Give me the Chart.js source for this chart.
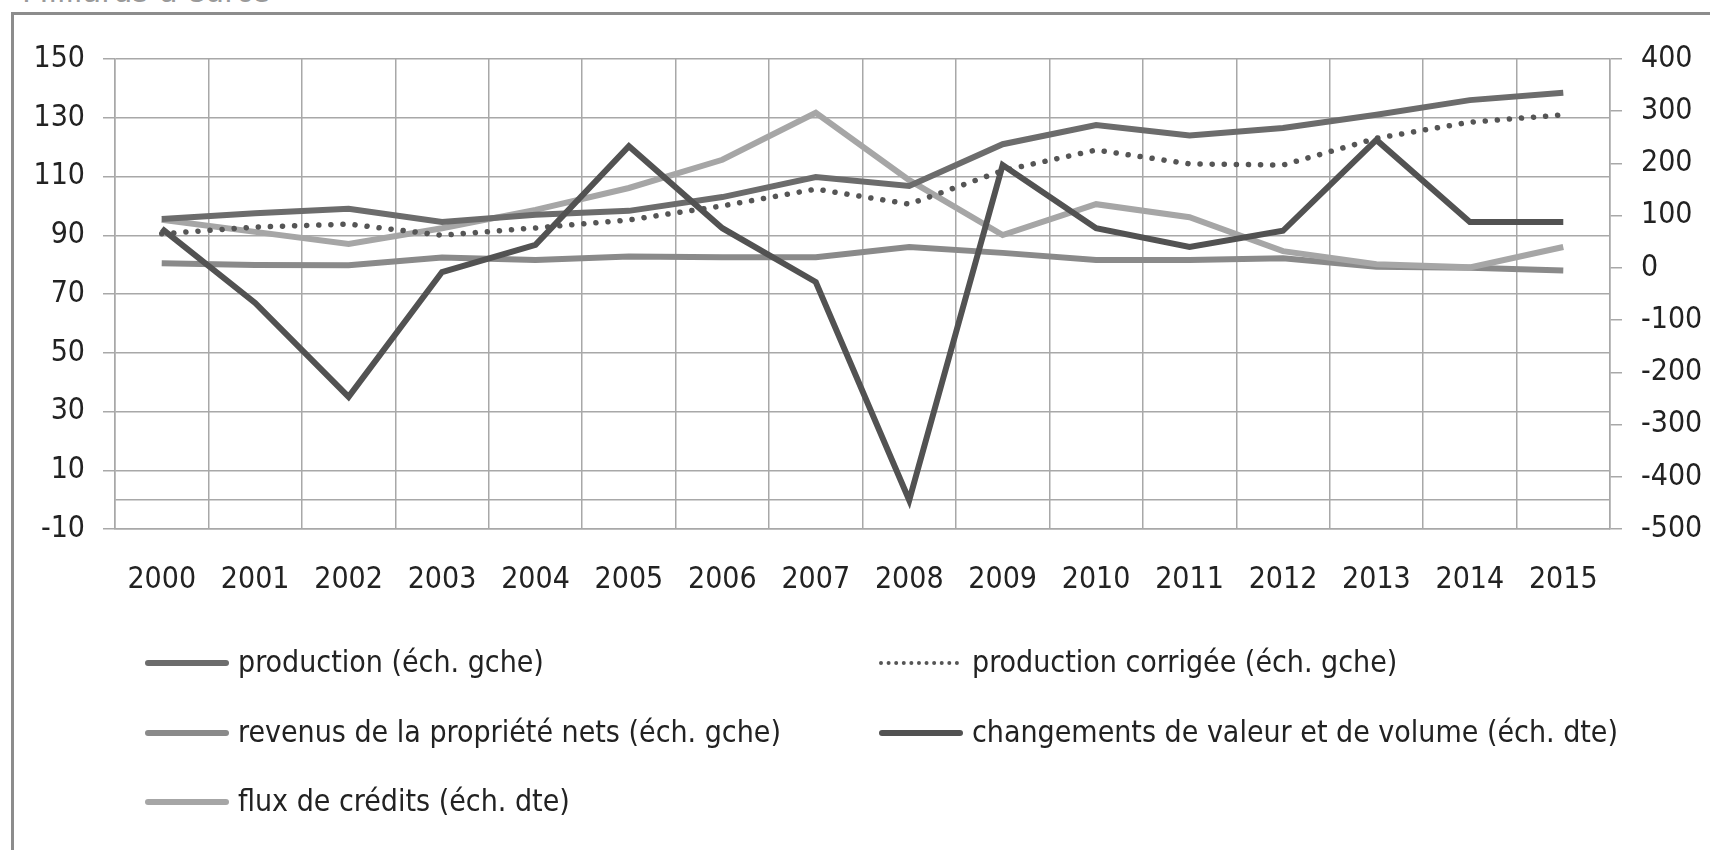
<!DOCTYPE html>
<html>
<head>
<meta charset="utf-8">
<script src="https://cdn.jsdelivr.net/npm/chart.js@4"></script>
<style>
  body { margin: 0; background: #fff; overflow: hidden; }
  #wrap { position: relative; width: 1710px; height: 850px; overflow: hidden; font-family: "Liberation Sans Narrow", "DejaVu Sans Condensed", "Liberation Sans", sans-serif; }
  #frame { position: absolute; left: 11px; top: 12px; width: 1760px; height: 900px; border: 3px solid #8c8c8c; box-sizing: border-box; }
  #title { position: absolute; left: 22px; top: -30px; font-size: 34px; color: #9a9a9a; white-space: nowrap; }
  canvas { position: absolute; left: 0; top: 0; }
  .leg { position: absolute; font-size: 30px; color: #222; white-space: nowrap; line-height: 36px; }
  .sw { position: absolute; width: 84px; height: 0; }
</style>
</head>
<body>
<div id="wrap">
  <div id="title">Milliards d'euros</div>
  <div id="frame"></div>
  <canvas id="chart" width="1710" height="850"></canvas>
  <div id="legend"></div>
</div>
<script>
var years = ['2000', '2001', '2002', '2003', '2004', '2005', '2006', '2007',
             '2008', '2009', '2010', '2011', '2012', '2013', '2014', '2015'];

// échelle de gauche
var production = [95.5, 97.5, 99, 94.5, 97, 98.3, 103, 109.8, 106.8, 121, 127.5, 124, 126.5, 131, 136, 138.5];
var productionCorrigee = [90.5, 92.8, 93.8, 90, 92.5, 95.2, 100, 105.7, 100.6, 112, 119, 114.3, 113.9, 123, 128.5, 131];
var revenusNets = [80.5, 79.9, 79.8, 82.4, 81.6, 82.8, 82.5, 82.5, 86, 84, 81.6, 81.6, 82.2, 79.3, 78.9, 78];

// échelle de droite
var changements = [75, -67, -247, -8, 44, 233, 76, -27, -445, 197, 76, 40, 71, 245, 88, 88];
var fluxCredits = [92, 69, 46, 76, 111, 153, 207, 297, 168, 63, 122, 97, 32, 7, 1, 40];

var leftTicks = [-10, 10, 30, 50, 70, 90, 110, 130, 150];
var rightTicks = [-500, -400, -300, -200, -100, 0, 100, 200, 300, 400];

var labels = [
  'production (éch. gche)',
  'production corrigée (éch. gche)',
  'revenus de la propriété nets (éch. gche)',
  'changements de valeur et de volume (éch. dte)',
  'flux de crédits (éch. dte)'
];

var font = { family: '"Liberation Sans Narrow", "DejaVu Sans Condensed", "Liberation Sans", sans-serif', size: 30 };
var gridColor = '#a8a8a8';

var ctx = document.getElementById('chart').getContext('2d');
var chart = new Chart(ctx, {
  type: 'line',
  data: {
    labels: years,
    datasets: [
      { label: labels[0], data: production, yAxisID: 'y', borderColor: '#6c6c6c', borderWidth: 6, order: 2 },
      { label: labels[1], data: productionCorrigee, yAxisID: 'y', borderColor: '#555555', borderWidth: 5.5,
        borderDash: [0.1, 12], borderCapStyle: 'round', order: 1 },
      { label: labels[2], data: revenusNets, yAxisID: 'y', borderColor: '#8a8a8a', borderWidth: 6, order: 4 },
      { label: labels[3], data: changements, yAxisID: 'y1', borderColor: '#525252', borderWidth: 6, order: 0 },
      { label: labels[4], data: fluxCredits, yAxisID: 'y1', borderColor: '#a6a6a6', borderWidth: 6, order: 3 }
    ]
  },
  options: {
    responsive: false,
    animation: false,
    layout: { padding: { top: 59, bottom: 241, left: 0, right: 0 } },
    elements: {
      point: { radius: 0, hoverRadius: 0 },
      line: { tension: 0, borderJoinStyle: 'miter', fill: false }
    },
    plugins: { legend: { display: false }, tooltip: { enabled: false } },
    scales: {
      x: {
        offset: true,
        grid: { offset: true, color: gridColor, lineWidth: 1.5, drawTicks: false },
        border: { color: gridColor, width: 1.5 },
        ticks: { color: '#222', font: font, padding: 33, maxRotation: 0, autoSkip: false },
        afterFit: function (s) { s.height = 80; }
      },
      y: {
        position: 'left',
        min: -10,
        max: 150,
        afterBuildTicks: function (s) {
          s.ticks = leftTicks.map(function (v) { return { value: v }; });
          s.ticks.splice(1, 0, { value: 0 });
        },
        grid: {
          color: gridColor, lineWidth: 1.5, tickLength: 12,
          tickColor: function (c) { return c.tick && c.tick.value === 0 ? 'rgba(0,0,0,0)' : gridColor; }
        },
        border: { color: gridColor, width: 1.5 },
        ticks: {
          color: '#222', font: font, padding: 18,
          callback: function (v) { return v === 0 ? '' : v; }
        },
        afterFit: function (s) { s.width = 115; }
      },
      y1: {
        position: 'right',
        min: -500,
        max: 400,
        afterBuildTicks: function (s) {
          s.ticks = rightTicks.map(function (v) { return { value: v }; });
        },
        grid: { drawOnChartArea: false, color: gridColor, lineWidth: 1.5, tickLength: 12 },
        border: { color: gridColor, width: 1.5 },
        ticks: { color: '#222', font: font, padding: 19 },
        afterFit: function (s) { s.width = 100; }
      }
    }
  }
});

// légende en deux colonnes
var legendPos = [
  { x: 145, y: 663 }, { x: 879, y: 663 },
  { x: 145, y: 733 }, { x: 879, y: 733 },
  { x: 145, y: 802 }
];
var legend = document.getElementById('legend');
chart.data.datasets.forEach(function (ds, i) {
  var p = legendPos[i];
  var sw = document.createElement('div');
  sw.className = 'sw';
  sw.style.left = p.x + 'px';
  if (ds.borderDash) {
    sw.style.top = (p.y - 2) + 'px';
    sw.style.borderTop = '4px dotted ' + ds.borderColor;
    sw.style.width = '80px';
  } else {
    sw.style.top = (p.y - 3) + 'px';
    sw.style.borderTop = '6px solid ' + ds.borderColor;
    sw.style.borderRadius = '3px';
  }
  legend.appendChild(sw);
  var t = document.createElement('div');
  t.className = 'leg';
  t.textContent = ds.label;
  t.style.left = (p.x + 93) + 'px';
  t.style.top = (p.y - 19) + 'px';
  legend.appendChild(t);
});
</script>
</body>
</html>
